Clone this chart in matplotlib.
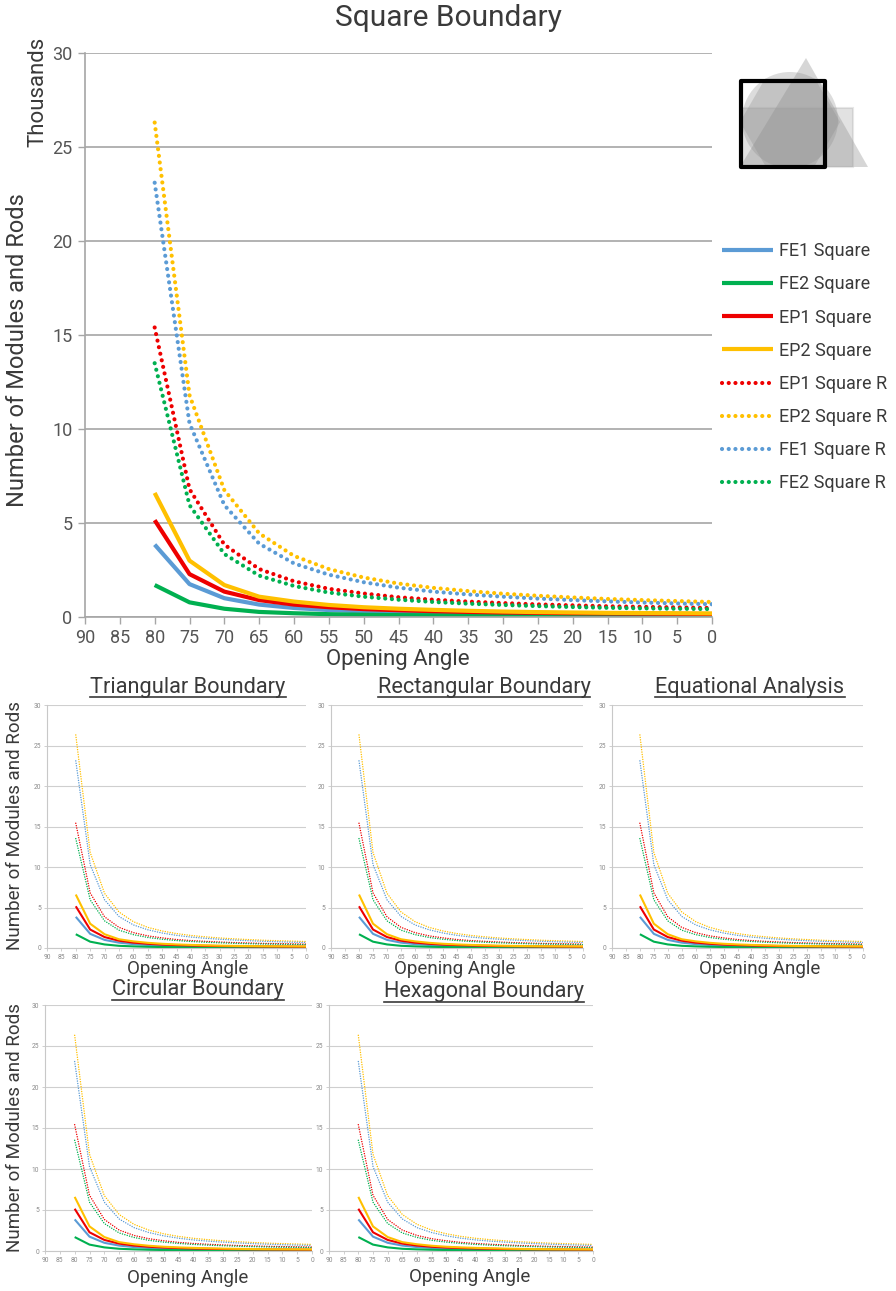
import numpy as np
import matplotlib
matplotlib.use("Agg")
import matplotlib.pyplot as plt
from matplotlib.lines import Line2D
from matplotlib.patches import Polygon, Circle, Rectangle, RegularPolygon

plt.rcParams['font.family'] = ['Roboto', 'DejaVu Sans']

# Daten (Tausend), Öffnungswinkel 80 .. 0
angles = [80, 75, 70, 65, 60, 55, 50, 45, 40, 35, 30, 25, 20, 15, 10, 5, 0]
fe1 = [3.85, 1.75, 1.0, 0.66, 0.48, 0.37, 0.3, 0.25, 0.22, 0.19, 0.17, 0.16, 0.15, 0.14, 0.13, 0.12, 0.12]
fe2 = [1.7, 0.78, 0.44, 0.27, 0.2, 0.15, 0.12, 0.1, 0.09, 0.08, 0.07, 0.06, 0.06, 0.05, 0.05, 0.05, 0.05]
ep1 = [5.15, 2.28, 1.35, 0.9, 0.66, 0.52, 0.42, 0.36, 0.31, 0.27, 0.24, 0.22, 0.2, 0.19, 0.18, 0.17, 0.16]
ep2 = [6.6, 3.0, 1.7, 1.08, 0.82, 0.64, 0.52, 0.44, 0.38, 0.33, 0.29, 0.26, 0.24, 0.22, 0.21, 0.2, 0.19]
ep1_r = [15.4, 6.8, 3.85, 2.55, 1.9, 1.5, 1.25, 1.05, 0.92, 0.82, 0.74, 0.67, 0.62, 0.57, 0.54, 0.51, 0.48]
ep2_r = [26.3, 11.8, 6.75, 4.45, 3.25, 2.55, 2.1, 1.78, 1.55, 1.38, 1.24, 1.13, 1.04, 0.96, 0.9, 0.85, 0.8]
fe1_r = [23.1, 10.3, 5.95, 3.9, 2.85, 2.25, 1.85, 1.56, 1.35, 1.2, 1.08, 0.98, 0.9, 0.83, 0.77, 0.72, 0.68]
fe2_r = [13.5, 5.95, 3.35, 2.2, 1.65, 1.3, 1.08, 0.92, 0.8, 0.71, 0.64, 0.58, 0.53, 0.49, 0.46, 0.44, 0.42]

labels = ["FE1 Square", "FE2 Square", "EP1 Square", "EP2 Square",
          "EP1 Square R", "EP2 Square R", "FE1 Square R", "FE2 Square R"]
series = [fe1, fe2, ep1, ep2, ep1_r, ep2_r, fe1_r, fe2_r]

BLUE, GREEN, RED, YELLOW = "#5b9bd5", "#00b050", "#ee0000", "#ffc000"
colors = [BLUE, GREEN, RED, YELLOW, RED, YELLOW, BLUE, GREEN]
dotted = [False] * 4 + [True] * 4

small_titles = ["Triangular Boundary", "Rectangular Boundary", "Equational Analysis",
                "Circular Boundary", "Hexagonal Boundary"]

W, H = 896, 1291
fig = plt.figure(figsize=(W / 100, H / 100), dpi=100)
TXT = "#3a3a3a"


def px_rect(left, right, top, bottom):
    return [left / W, 1 - bottom / H, (right - left) / W, (bottom - top) / H]


def draw_series(ax, lw_solid, lw_dot, dot_gap):
    # gepunktete Linien zuerst, durchgezogene darüber
    handles = {}
    for i in range(len(series)):
        if dotted[i]:
            h, = ax.plot(angles, series[i], color=colors[i], lw=lw_dot,
                         linestyle=(0, (0.01, dot_gap)), dash_capstyle='round', label=labels[i])
            handles[i] = h
    for i in range(len(series)):
        if not dotted[i]:
            h, = ax.plot(angles, series[i], color=colors[i], lw=lw_solid,
                         solid_capstyle='butt', label=labels[i])
            handles[i] = h
    return [handles[i] for i in range(len(series))]


def style_axes(ax, tick_fs, grid_col, spine_col, lab_col, tick_len):
    big = tick_fs > 8
    ax.set_xlim(90, 0)
    ax.set_ylim(0, 30)
    ax.set_xticks(np.arange(90, -1, -5))
    ax.set_yticks(np.arange(0, 31, 5))
    ax.yaxis.grid(True, color=grid_col, lw=1.2 if big else 0.8)
    ax.set_axisbelow(True)
    for s in ["top", "right"]:
        ax.spines[s].set_visible(False)
    for s in ["left", "bottom"]:
        ax.spines[s].set_color(spine_col)
        ax.spines[s].set_linewidth(1.2 if big else 0.8)
    ax.tick_params(labelsize=tick_fs, colors=spine_col, labelcolor=lab_col,
                   length=tick_len, width=1 if big else 0.6, pad=4 if big else 2)


# Hauptdiagramm: Square Boundary
ax = fig.add_axes(px_rect(85, 712, 53, 617))
hs = draw_series(ax, 3.0, 3.0, 1.6)
style_axes(ax, 13, "#a6a6a6", "#a6a6a6", "#555555", 5)
fig.text(448 / W, 1 - 18 / H, "Square Boundary", ha="center", va="center", fontsize=21.5, color=TXT)
fig.text(18 / W, 1 - 350 / H, "Number of Modules and Rods", rotation=90, ha="center", va="center",
         fontsize=17, color=TXT)
fig.text(38 / W, 1 - 92 / H, "Thousands", rotation=90, ha="center", va="center", fontsize=16, color=TXT)
fig.text(398 / W, 1 - 660 / H, "Opening Angle", ha="center", va="center", fontsize=16, color=TXT)

fig.legend(hs, labels, loc="upper left", bbox_to_anchor=(715 / W, 1 - 235 / H), frameon=False,
           fontsize=13, handlelength=2.8, handletextpad=0.35, labelspacing=0.84,
           borderaxespad=0, borderpad=0.4, labelcolor=TXT)

# Symbol oben rechts (überlagerte Randformen)
icon = fig.add_axes(px_rect(720, 880, 50, 180))
icon.set_xlim(720, 880)
icon.set_ylim(180, 50)
icon.axis("off")
grey = "#8c8c8c"
icon.add_patch(Polygon([[740, 167], [806, 58], [868, 167]], closed=True, fc=grey, alpha=0.35, ec="none"))
icon.add_patch(Circle((790, 120), 48, fc=grey, alpha=0.3, ec="none"))
icon.add_patch(RegularPolygon((790, 122), 6, radius=50, orientation=np.pi / 6, fc=grey, alpha=0.3, ec="none"))
icon.add_patch(Rectangle((741, 108), 112, 59, fc=grey, alpha=0.25, ec="#a0a0a0", lw=1.5))
icon.add_patch(Rectangle((741, 81), 84, 86, fc="none", ec="black", lw=3, joinstyle="round"))

# kleine Diagramme
boxes = [(47, 306, 705, 948), (331, 583, 705, 948), (612, 863, 705, 948),
         (45, 312, 1005, 1251), (329, 593, 1005, 1251)]
title_pos = [(188, 687), (484, 687), (750, 687), (198, 990), (484, 992)]
xlab_pos = [(188, 969), (455, 969), (760, 969), (188, 1278), (470, 1277)]
title_objs = []
for k, (l, r, t, b) in enumerate(boxes):
    a = fig.add_axes(px_rect(l, r, t, b))
    draw_series(a, 1.5, 1.1, 1.6)
    style_axes(a, 4.8, "#cfcfcf", "#c8c8c8", "#8a8a8a", 2)
    tx, ty = title_pos[k]
    title_objs.append(fig.text(tx / W, 1 - ty / H, small_titles[k], ha="center", va="center",
                               fontsize=15.7, color=TXT))
    xx, xy = xlab_pos[k]
    fig.text(xx / W, 1 - xy / H, "Opening Angle", ha="center", va="center", fontsize=13.5, color=TXT)

fig.text(15 / W, 1 - 826 / H, "Number of Modules and Rods", rotation=90, ha="center", va="center",
         fontsize=13.5, color=TXT)
fig.text(15 / W, 1 - 1128 / H, "Number of Modules and Rods", rotation=90, ha="center", va="center",
         fontsize=13.5, color=TXT)

# Unterstreichung der Titel
fig.canvas.draw()
renderer = fig.canvas.get_renderer()
for t in title_objs:
    bb = t.get_window_extent(renderer)
    y = bb.y0 + 1
    fig.add_artist(Line2D([bb.x0 / W, bb.x1 / W], [y / H, y / H], color=TXT, lw=1.2,
                          transform=fig.transFigure))

fig.savefig("out.png", dpi=100)
